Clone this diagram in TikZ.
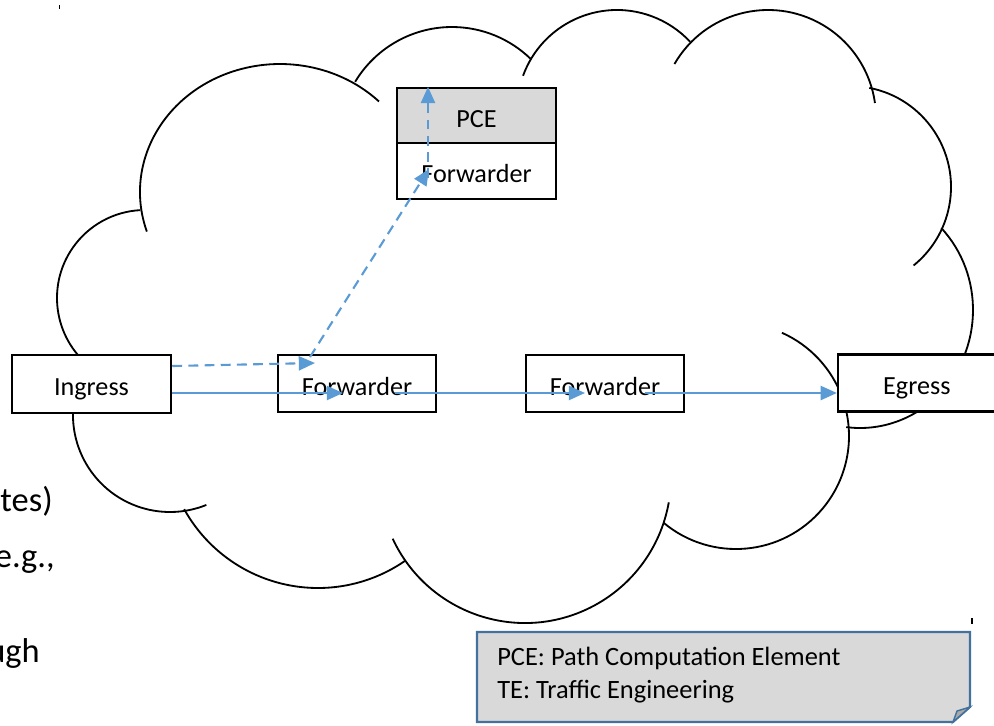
\documentclass[tikz,border=0pt]{standalone}
\usepackage{fontspec}
\setmainfont{Carlito}
\usepackage{tikz}
\usetikzlibrary{arrows.meta}
\definecolor{linkblue}{RGB}{91,155,213}
\definecolor{boxgray}{RGB}{217,217,217}
\definecolor{noteedge}{RGB}{65,113,156}
\definecolor{foldgray}{RGB}{170,170,170}
\tikzstyle{nodebox}=[
        draw=black,
        line width=1.6pt,
        fill=white,
        minimum width=3.95cm,
        minimum height=1.43cm,
        inner sep=0pt,
        text height=17pt,
        text depth=0pt,
        font=\fontsize{18.6}{22}\selectfont
]
\tikzstyle{cloudedge}=[
        draw=black,
        line width=1.3pt
]
\tikzstyle{flow}=[
        draw=linkblue,
        line width=1.5pt,
        -{Triangle[length=11.5pt,width=10pt]}
]
\tikzstyle{ctrlflow}=[
        flow,
        dash pattern=on 7pt off 4.5pt
]
\tikzstyle{notetext}=[
        anchor=base west,
        inner sep=0pt,
        font=\fontsize{18.8}{22}\selectfont
]
\tikzstyle{slidetext}=[
        anchor=base east,
        inner sep=0pt,
        font=\fontsize{24.5}{29}\selectfont
]

\begin{document}
\begin{tikzpicture}[x=0.025cm, y=0.025cm, yscale=-1]
    \useasboundingbox (0,0) rectangle (994,725);

    % cloud: one arc per bump, centre x/y, radii x/y, start/end angle
    \foreach \cx/\cy/\rx/\ry/\sa/\ea in {
            145/298/88/88/125/267,
            280/192/140/128/162/315,
            452/140/113/113/211/314,
            617/110/100/100/200/317,
            768/118/108/108/210/352,
            850/187/101/101/-79/51,
            860/310/113/118/-44/97,
            736/436/113/113/130/-66,
            525/477/146/146/155/10,
            318/435/153/153/151/55,
            170/415/97/97/200/68} {
        \draw[cloudedge] (\cx,\cy) ++({\rx*cos(\sa)},{\ry*sin(\sa)})
            arc[start angle=\sa, end angle=\ea, x radius=\rx, y radius=\ry];
    }

    \node[nodebox, minimum width=3.98cm, minimum height=1.45cm] (ingress) at (91.5,384) {Ingress};
    \node[nodebox] (fwd1) at (357,383.5) {Forwarder};
    \node[nodebox] (fwd2) at (605,383.5) {Forwarder};
    \node[nodebox, minimum width=4.05cm] (egress) at (919,383) {\hspace*{-3pt}Egress};

    \node[nodebox, fill=boxgray, minimum width=3.98cm, minimum height=1.375cm] (pce) at (476.5,115.5) {PCE};
    \node[nodebox, minimum width=3.98cm, minimum height=1.4cm] (pcefwd) at (476.5,171) {Forwarder};

    % data path
    \coordinate (f1in) at (343,393);
    \coordinate (f1out) at (395,393);
    \coordinate (f2in) at (585,393);
    \coordinate (f2out) at (645,393);
    \draw[flow] (ingress.east |- f1in) -- (f1in);
    \draw[flow] (f1out) -- (f2in);
    \draw[flow] (f2out) -- (egress.west |- f2out);

    % request towards the PCE
    \coordinate (f1top) at (315,363);
    \coordinate (f1up) at (310,357);
    \coordinate (pcein) at (429,169);
    \coordinate (pcelow) at (428,178);
    \draw[ctrlflow] (ingress.east) ++(0,-18) -- (f1top);
    \draw[ctrlflow] (f1up) -- (pcein);
    \draw[ctrlflow] (pcelow) -- (pcelow |- pce.north);

    % leftover slide text
    \node[slidetext] (tail1) at (53,511) {tes)};
    \node[slidetext] (tail2) at (55,567) {e.g.,};
    \node[slidetext] (tail3) at (40,662) {ugh};

    % legend note with folded corner
    \draw[draw=noteedge, fill=boxgray, line width=1.5pt]
        (477,632) -- (970,632) -- (970,707) -- (953,722) -- (477,722) -- cycle;
    \draw[draw=noteedge, fill=foldgray, line width=1pt]
        (953,722) -- (957,711) -- (970,707) -- cycle;
    \node[notetext] (pcedef) at (497,665) {PCE: Path Computation Element};
    \node[notetext] (tedef) at (497,698) {TE: Traffic Engineering};

    \draw[line width=0.6pt] (59,5) -- (59,9);
    \draw[line width=0.8pt] (972,618) -- (972,624);
\end{tikzpicture}
\end{document}
